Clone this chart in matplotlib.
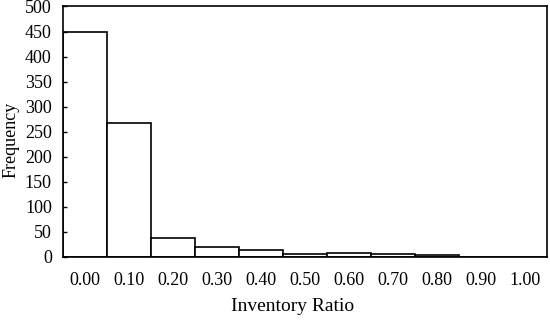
import matplotlib
matplotlib.use('Agg')
import matplotlib.pyplot as plt
import numpy as np

# 数据
categories = ['0.00', '0.10', '0.20', '0.30', '0.40', '0.50',
              '0.60', '0.70', '0.80', '0.90', '1.00']
frequency = [450, 268, 37, 20, 13, 6, 8, 6, 3, 0, 0]
y_ticks = [0, 50, 100, 150, 200, 250, 300, 350, 400, 450, 500]

plt.rcParams['font.family'] = ['Liberation Serif', 'DejaVu Serif']

fig = plt.figure(figsize=(5.5, 3.22), dpi=100)
ax = fig.add_axes([0.1145, 0.2019, 0.88, 0.778])

x = np.arange(len(categories))
ax.bar(x, frequency, width=1.0, color='white', edgecolor='black', linewidth=1.2)

ax.set_xlim(-0.5, len(categories) - 0.5)
ax.set_ylim(0, 500)
ax.set_xticks(x)
ax.set_xticklabels(categories, fontsize=13)
ax.set_yticks(y_ticks)
ax.tick_params(axis='y', direction='in', length=3, width=1, labelsize=13, pad=8)
ax.tick_params(axis='x', length=0, pad=11)

for s in ax.spines.values():
    s.set_linewidth(1.2)

# 坐标轴标签
ax.set_xlabel('Inventory Ratio', fontsize=14)
ax.set_ylabel('Frequency', fontsize=13)
ax.xaxis.set_label_coords(0.475, -0.165)
ax.yaxis.set_label_coords(-0.09, 0.468)

fig.savefig('out.png', dpi=100)
